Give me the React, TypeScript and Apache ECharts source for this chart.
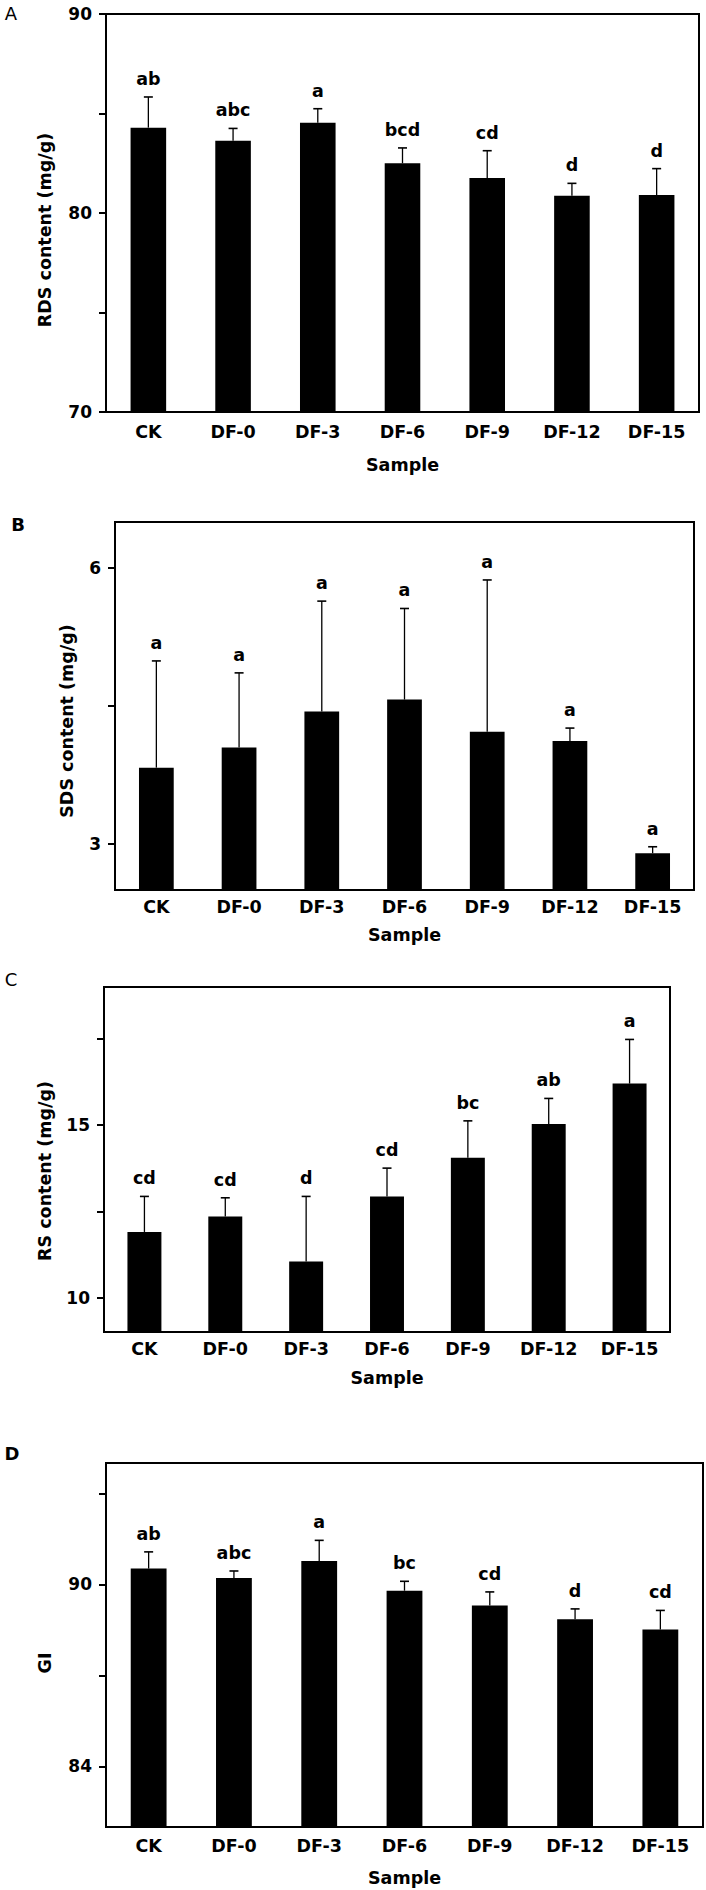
import React, { useEffect, useRef } from "react";
import * as echarts from "echarts";

const categories = ["CK", "DF-0", "DF-3", "DF-6", "DF-9", "DF-12", "DF-15"];

const rdsValues = [84.29, 83.63, 84.54, 82.5, 81.76, 80.87, 80.9];
const rdsErrors = [1.54, 0.62, 0.7, 0.77, 1.37, 0.62, 1.33];
const rdsLetters = ["ab", "abc", "a", "bcd", "cd", "d", "d"];
const rdsTicks = [70, 75, 80, 85, 90];
const rdsTickLabels = [70, 80, 90];

const sdsValues = [3.83, 4.05, 4.44, 4.57, 4.22, 4.12, 2.9];
const sdsErrors = [1.16, 0.81, 1.2, 0.99, 1.65, 0.14, 0.07];
const sdsLetters = ["a", "a", "a", "a", "a", "a", "a"];
const sdsTicks = [3, 4.5, 6];
const sdsTickLabels = [3, 6];

const rsValues = [11.9, 12.35, 11.04, 12.93, 14.05, 15.03, 16.2];
const rsErrors = [1.03, 0.54, 1.89, 0.82, 1.07, 0.74, 1.28];
const rsLetters = ["cd", "cd", "d", "cd", "bc", "ab", "a"];
const rsTicks = [10, 12.5, 15, 17.5];
const rsTickLabels = [10, 15];

const giValues = [90.52, 90.21, 90.77, 89.79, 89.3, 88.85, 88.51];
const giErrors = [0.55, 0.23, 0.68, 0.31, 0.45, 0.34, 0.63];
const giLetters = ["ab", "abc", "a", "bc", "cd", "d", "cd"];
const giTicks = [84, 87, 90, 93];
const giTickLabels = [84, 90];

const FONT = "DejaVu Sans";

export default function App() {
  const ref = useRef<HTMLDivElement>(null);

  useEffect(() => {
    document.body.style.margin = "0";
    if (!ref.current) return;
    const chart = echarts.init(ref.current, null, { renderer: "svg" });

    const panels = [
      {
        letter: "A", letterBold: false, letterPos: [11, 13],
        yTitle: "RDS content (mg/g)", yTitlePos: [45, 230],
        grid: { left: 106, top: 14, width: 593, height: 398 },
        min: 70, max: 90, ticks: rdsTicks, tickLabels: rdsTickLabels,
        values: rdsValues, errors: rdsErrors, letters: rdsLetters,
        xLabelMargin: 11, nameGap: 44,
      },
      {
        letter: "B", letterBold: true, letterPos: [18, 524],
        yTitle: "SDS content (mg/g)", yTitlePos: [67, 721],
        grid: { left: 115, top: 522, width: 579, height: 368 },
        min: 2.5, max: 6.5, ticks: sdsTicks, tickLabels: sdsTickLabels,
        values: sdsValues, errors: sdsErrors, letters: sdsLetters,
        xLabelMargin: 8, nameGap: 36,
      },
      {
        letter: "C", letterBold: false, letterPos: [11, 979],
        yTitle: "RS content (mg/g)", yTitlePos: [45, 1171],
        grid: { left: 104, top: 987, width: 566, height: 345 },
        min: 9, max: 19, ticks: rsTicks, tickLabels: rsTickLabels,
        values: rsValues, errors: rsErrors, letters: rsLetters,
        xLabelMargin: 8, nameGap: 37,
      },
      {
        letter: "D", letterBold: true, letterPos: [12, 1453],
        yTitle: "GI", yTitlePos: [45, 1663],
        grid: { left: 106, top: 1463, width: 597, height: 364 },
        min: 82, max: 94, ticks: giTicks, tickLabels: giTickLabels,
        values: giValues, errors: giErrors, letters: giLetters,
        xLabelMargin: 10, nameGap: 42,
      },
    ];

    const axisLine = { show: true, lineStyle: { color: "#000", width: 2 } };

    const option: any = {
      animation: false,
      backgroundColor: "#fff",
      grid: panels.map((p) => ({
        ...p.grid,
        show: true,
        borderColor: "#000",
        borderWidth: 2,
        backgroundColor: "transparent",
        containLabel: false,
      })),
      xAxis: panels.map((p, i) => ({
        type: "category",
        gridIndex: i,
        data: categories,
        axisLine,
        axisTick: { show: false },
        splitLine: { show: false },
        axisLabel: {
          margin: p.xLabelMargin,
          color: "#000",
          fontFamily: FONT,
          fontWeight: "bold",
          fontSize: 17.5,
          interval: 0,
        },
        name: "Sample",
        nameLocation: "middle",
        nameGap: p.nameGap,
        nameTextStyle: {
          color: "#000",
          fontFamily: FONT,
          fontWeight: "bold",
          fontSize: 17.5,
        },
      })),
      yAxis: panels.map((p, i) => ({
        type: "value",
        gridIndex: i,
        min: p.min,
        max: p.max,
        axisLine,
        splitLine: { show: false },
        axisTick: {
          show: true,
          customValues: p.ticks,
          length: 7,
          lineStyle: { color: "#000", width: 2 },
        },
        axisLabel: {
          customValues: p.tickLabels,
          margin: 14,
          color: "#000",
          fontFamily: FONT,
          fontWeight: "bold",
          fontSize: 17,
        },
      })),
      graphic: [
        ...panels.map((p) => ({
          type: "text",
          x: p.yTitlePos[0],
          y: p.yTitlePos[1],
          rotation: Math.PI / 2,
          style: {
            text: p.yTitle,
            fill: "#000",
            fontFamily: FONT,
            fontWeight: "bold",
            fontSize: 17.5,
            align: "center",
            verticalAlign: "middle",
          },
        })),
        ...panels.map((p) => ({
          type: "text",
          x: p.letterPos[0],
          y: p.letterPos[1],
          style: {
            text: p.letter,
            fill: "#000",
            fontFamily: FONT,
            fontWeight: p.letterBold ? "bold" : "normal",
            fontSize: 18,
            align: "center",
            verticalAlign: "middle",
          },
        })),
      ],
      series: [
        ...panels.map((p, i) => ({
          type: "bar",
          xAxisIndex: i,
          yAxisIndex: i,
          data: p.values,
          barWidth: "42%",
          itemStyle: { color: "#000" },
          z: 2,
        })),
        ...panels.map((p, i) => ({
          type: "custom",
          xAxisIndex: i,
          yAxisIndex: i,
          z: 3,
          data: p.values.map((v, k) => [k, v, v + p.errors[k]]),
          renderItem: (params: any, api: any) => {
            const x = api.value(0);
            const base = api.coord([x, api.value(1)]);
            const top = api.coord([x, api.value(2)]);
            const cap = 4.5;
            return {
              type: "group",
              children: [
                {
                  type: "line",
                  shape: { x1: base[0], y1: base[1], x2: top[0], y2: top[1] },
                  style: { stroke: "#000", lineWidth: 1.3 },
                },
                {
                  type: "line",
                  shape: { x1: top[0] - cap, y1: top[1], x2: top[0] + cap, y2: top[1] },
                  style: { stroke: "#000", lineWidth: 1.6 },
                },
                {
                  type: "text",
                  x: top[0],
                  y: top[1] - 18,
                  style: {
                    text: p.letters[params.dataIndex],
                    fill: "#000",
                    fontFamily: FONT,
                    fontWeight: "bold",
                    fontSize: 17.5,
                    align: "center",
                    verticalAlign: "middle",
                  },
                },
              ],
            };
          },
        })),
      ],
    };

    chart.setOption(option);
    return () => chart.dispose();
  }, []);

  return <div ref={ref} style={{ width: 706, height: 1890 }} />;
}
